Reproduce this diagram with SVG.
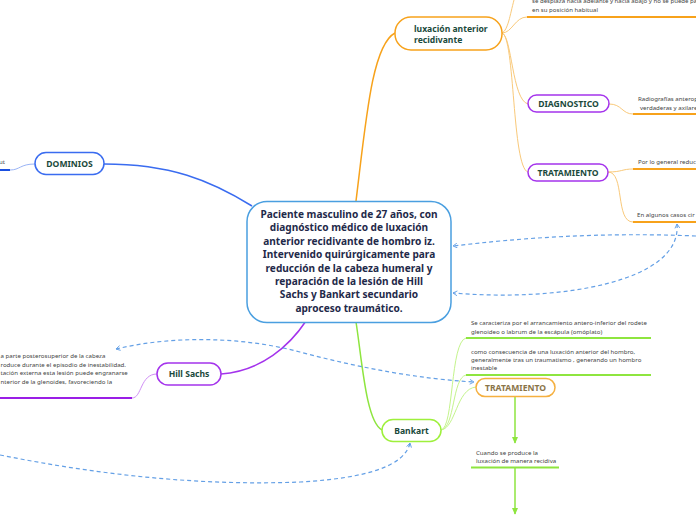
<svg xmlns="http://www.w3.org/2000/svg" width="696" height="520" viewBox="0 0 696 520">
<defs>
<marker id="ab" viewBox="0 0 10 10" refX="8" refY="5" markerWidth="5" markerHeight="5" orient="auto-start-reverse"><path d="M1,1 L8,5 L1,9" fill="none" stroke="#4a90e2" stroke-width="1.5"/></marker>
<marker id="ag" viewBox="0 0 10 10" refX="8" refY="5" markerWidth="5" markerHeight="5" orient="auto"><path d="M0,1 L9,5 L0,9 Z" fill="#8ee53f"/></marker>
</defs>
<style>
.nt{font-family:"Noto Sans","Open Sans",sans-serif;font-weight:bold;fill:#1b4a3c;font-size:8.6px;text-anchor:middle}
.ct{font-family:"Noto Sans","Open Sans",sans-serif;font-weight:bold;fill:#1f2a4a;font-size:10.1px;text-anchor:middle}
.st{font-family:"Noto Sans","Open Sans",sans-serif;fill:#444;font-size:6.1px}
.thin{fill:none;stroke-width:1}
.main{fill:none;stroke-width:1.5}
.ul{fill:none;stroke-width:2}
.rel{fill:none;stroke:#4a90e2;stroke-width:1.2;stroke-dasharray:4 3;opacity:0.85}
</style>
<g id="connectors">
<path class="main" stroke="#3a6cf0" d="M104,164 C170,164 210,180 252,206"/>
<path class="thin" stroke="#9ab4f6" d="M35,164 C20,164 20,170 10,170"/>
<path class="ul" stroke="#1a4fe0" d="M0,170 H10"/>
<path class="main" stroke="#f7a21b" d="M356,201 C366,120 372,45 395,33"/>
<path class="thin" stroke="#f9c97a" d="M502,33 C508,30 510,15 514,0"/>
<path class="thin" stroke="#f9c97a" d="M502,33 C512,33 515,17 527,17"/>
<path class="thin" stroke="#f9c97a" d="M502,33 C512,36 512,100 528,104"/>
<path class="thin" stroke="#f9c97a" d="M502,33 C515,36 512,168 528,172"/>
<path class="thin" stroke="#f9c97a" d="M609,104 C622,104 622,114 633,114"/>
<path class="thin" stroke="#f9c97a" d="M608,172 C622,172 622,169 633,169"/>
<path class="thin" stroke="#f9c97a" d="M608,172 C625,172 615,222 633,222"/>
<path class="ul" stroke="#f7a21b" d="M527,17 H696 M633,114 H696 M633,169 H696 M633,222 H696"/>
<path class="main" stroke="#a433ec" d="M221,374 C262,371 290,345 306,321"/>
<path class="thin" stroke="#d08ef5" d="M157,374 C140,374 142,398 132,398"/>
<path class="ul" stroke="#9a1ee6" d="M0,398 H132"/>
<path class="main" stroke="#8ee53f" d="M356,322 C362,360 366,422 382,430"/>
<path class="thin" stroke="#c4f48c" d="M441,430 C454,428 450,342 466,338"/>
<path class="thin" stroke="#c4f48c" d="M441,430 C455,428 452,378 466,375"/>
<path class="thin" stroke="#c4f48c" d="M441,430 C456,428 456,389 476,387"/>
<path class="ul" stroke="#8ee53f" d="M466,338 H651 M466,375 H651 M471,467.5 H559"/>
<path fill="none" stroke="#8ee53f" stroke-width="1.5" d="M515,396 V443" marker-end="url(#ag)"/>
<path fill="none" stroke="#8ee53f" stroke-width="1.5" d="M515,468 V514" marker-end="url(#ag)"/>
<path class="rel" d="M696,236 C600,232 520,238 453,246" marker-end="url(#ab)"/>
<path class="rel" d="M677,224 C682,282 560,302 453,293" marker-start="url(#ab)" marker-end="url(#ab)"/>
<path class="rel" d="M116,349 C170,336 240,336 300,352 S420,379 474,382" marker-start="url(#ab)" marker-end="url(#ab)"/>
<path class="rel" d="M0,455 C100,475 200,486 300,482 C370,478 405,465 410,443" marker-end="url(#ab)"/>
</g>
<g id="central">
<rect x="247" y="201.5" width="204" height="121" rx="20" fill="#fff" stroke="#4a9fe0" stroke-width="1.5"/>
<text class="ct"><tspan x="349" y="218">Paciente masculino de 27 años, con</tspan><tspan x="349" y="231.4">diagnóstico médico de luxación</tspan><tspan x="349" y="244.8">anterior recidivante de hombro iz.</tspan><tspan x="349" y="258.2">Intervenido quirúrgicamente para</tspan><tspan x="349" y="271.6">reducción de la cabeza humeral y</tspan><tspan x="349" y="285">reparación de la lesión de Hill</tspan><tspan x="349" y="298.4">Sachs y Bankart secundario</tspan><tspan x="349" y="311.8">aproceso traumático.</tspan></text>
</g>
<g id="dominios">
<rect x="35" y="152.5" width="69" height="22" rx="11" fill="#fff" stroke="#3a6cf0" stroke-width="1.5"/>
<text class="nt" x="69.5" y="166.7">DOMINIOS</text>
<text class="st" x="5" y="164" text-anchor="end">ut</text>
</g>
<g id="luxacion">
<rect x="395" y="17" width="107" height="33" rx="16" fill="#fff" stroke="#f7a21b" stroke-width="1.5"/>
<text class="nt" style="text-anchor:start"><tspan x="414" y="31.5">luxación anterior</tspan><tspan x="414" y="42.5">recidivante</tspan></text>
<text class="st"><tspan x="532" y="3">se desplaza hacia adelante y hacia abajo y no se puede pal</tspan><tspan x="532" y="12">en su posición habitual</tspan></text>
</g>
<g id="diagnostico">
<rect x="528" y="95" width="81" height="17" rx="8.5" fill="#fff" stroke="#a433ec" stroke-width="1.5"/>
<text class="nt" x="568.5" y="106.8">DIAGNOSTICO</text>
<text class="st"><tspan x="638" y="100.5">Radiografías anterop</tspan><tspan x="640" y="109.5">verdaderas y axilare</tspan></text>
</g>
<g id="tratamiento1">
<rect x="528" y="164" width="80" height="17" rx="8.5" fill="#fff" stroke="#a433ec" stroke-width="1.5"/>
<text class="nt" x="568" y="175.8">TRATAMIENTO</text>
<text class="st" x="638" y="163.5">Por lo general reduc</text>
<text class="st" x="637" y="217">En algunos casos cir</text>
</g>
<g id="hillsachs">
<rect x="157" y="363" width="64" height="22" rx="11" fill="#fff" stroke="#a433ec" stroke-width="1.5"/>
<text class="nt" x="189" y="377.2">Hill Sachs</text>
<text class="st"><tspan x="0.5" y="358">a parte posterosuperior de la cabeza</tspan><tspan x="0.5" y="366.5">roduce durante el episodio de inestabilidad.</tspan><tspan x="0.5" y="375">tación externa esta lesión puede engranarse</tspan><tspan x="0.5" y="383.5">nterior de la glenoides, favoreciendo la</tspan></text>
</g>
<g id="bankart">
<rect x="382" y="419.5" width="59" height="22" rx="11" fill="#fff" stroke="#9ef03c" stroke-width="1.5"/>
<text class="nt" x="411.5" y="433.7">Bankart</text>
<text class="st"><tspan x="471" y="324.5">Se caracteriza por el arrancamiento antero-inferior del rodete</tspan><tspan x="471" y="333.5">glenoideo o labrum de la escápula (omóplato)</tspan></text>
<text class="st"><tspan x="471" y="353.5">como consecuencia de una luxación anterior del hombro,</tspan><tspan x="471" y="361.5">generalmente tras un traumatismo , generando un hombro</tspan><tspan x="471" y="370">inestable</tspan></text>
</g>
<g id="tratamiento2">
<rect x="476" y="378.5" width="79" height="18" rx="9" fill="#fff" stroke="#f5b040" stroke-width="1.5"/>
<text class="nt" x="515.5" y="390.8" style="fill:#8a7448">TRATAMIENTO</text>
<text class="st"><tspan x="476" y="454.5">Cuando se produce la</tspan><tspan x="476" y="462.5">luxación de manera recidiva</tspan></text>
</g>
</svg>
